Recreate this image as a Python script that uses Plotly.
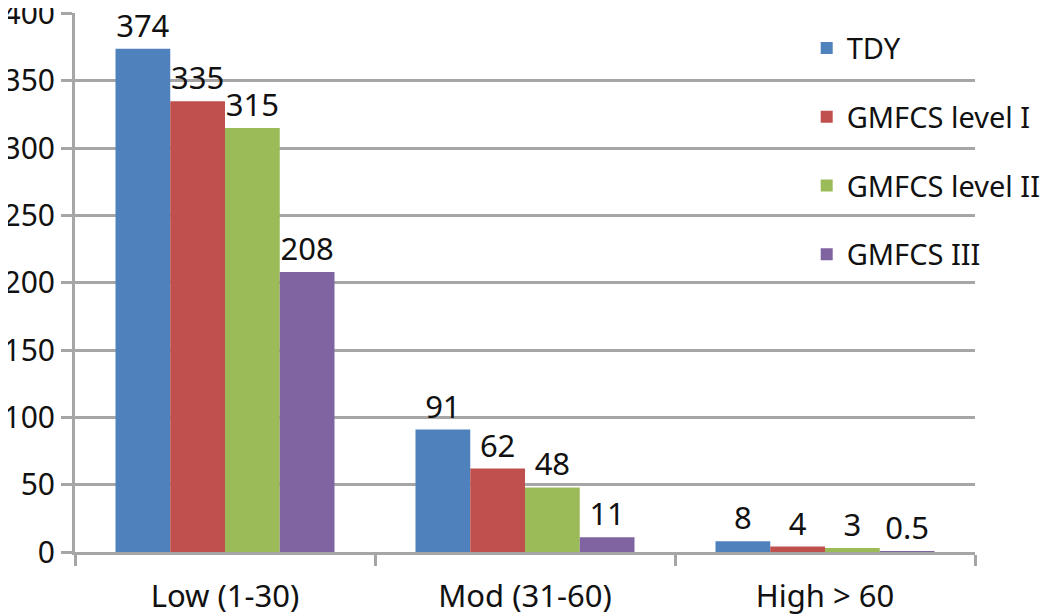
import plotly.graph_objects as go

categories = ["Low (1-30)", "Mod (31-60)", "High > 60"]
series_names = ["TDY", "GMFCS level I", "GMFCS level II", "GMFCS III"]
tdy = [374, 91, 8]
level1 = [335, 62, 4]
level2 = [315, 48, 3]
level3 = [208, 11, 0.5]
y_ticks = [0, 50, 100, 150, 200, 250, 300, 350, 400]

colors = ["#4F81BD", "#C0504D", "#9BBB59", "#8064A2"]
FONT = "Noto Sans"
GRID = "#A6A6A6"
FS = 31

fig = go.Figure()
for name, vals, col in zip(series_names, [tdy, level1, level2, level3], colors):
    fig.add_trace(go.Bar(
        name=name, x=categories, y=vals, marker_color=col,
        marker_line_width=0, legendgroup=name,
        text=[("%g" % v) for v in vals], textposition="outside",
        textfont=dict(size=FS, color="#111111", family=FONT),
        constraintext="none", cliponaxis=False,
    ))

fig.update_layout(
    width=1050, height=616,
    margin=dict(l=67, r=83, t=5, b=72, autoexpand=False),
    paper_bgcolor="white", plot_bgcolor="white",
    barmode="group", bargap=0.27, bargroupgap=0,
    font=dict(family=FONT, size=FS, color="#111111"),
    showlegend=True,
    legend=dict(x=0.813, y=0.982, xanchor="left", yanchor="top",
                bgcolor="rgba(0,0,0,0)", tracegroupgap=28,
                font=dict(size=29, family=FONT, color="#111111")),
)
fig.update_xaxes(
    automargin=False, ticklabelstandoff=15,
    showline=True, linecolor=GRID, linewidth=3,
    ticks="outside", tickson="boundaries", ticklen=11, tickwidth=3, tickcolor=GRID,
    tickfont=dict(size=FS), showgrid=False,
)
fig.update_yaxes(
    automargin=False, ticklabeloverflow="allow",
    range=[0, 400.5], tickvals=y_ticks,
    showline=True, linecolor=GRID, linewidth=3,
    ticks="outside", ticklen=11, tickwidth=3, tickcolor=GRID,
    showgrid=True, gridcolor=GRID, gridwidth=3, zeroline=False,
    tickfont=dict(size=30),
)

fig.write_html("out.html")
